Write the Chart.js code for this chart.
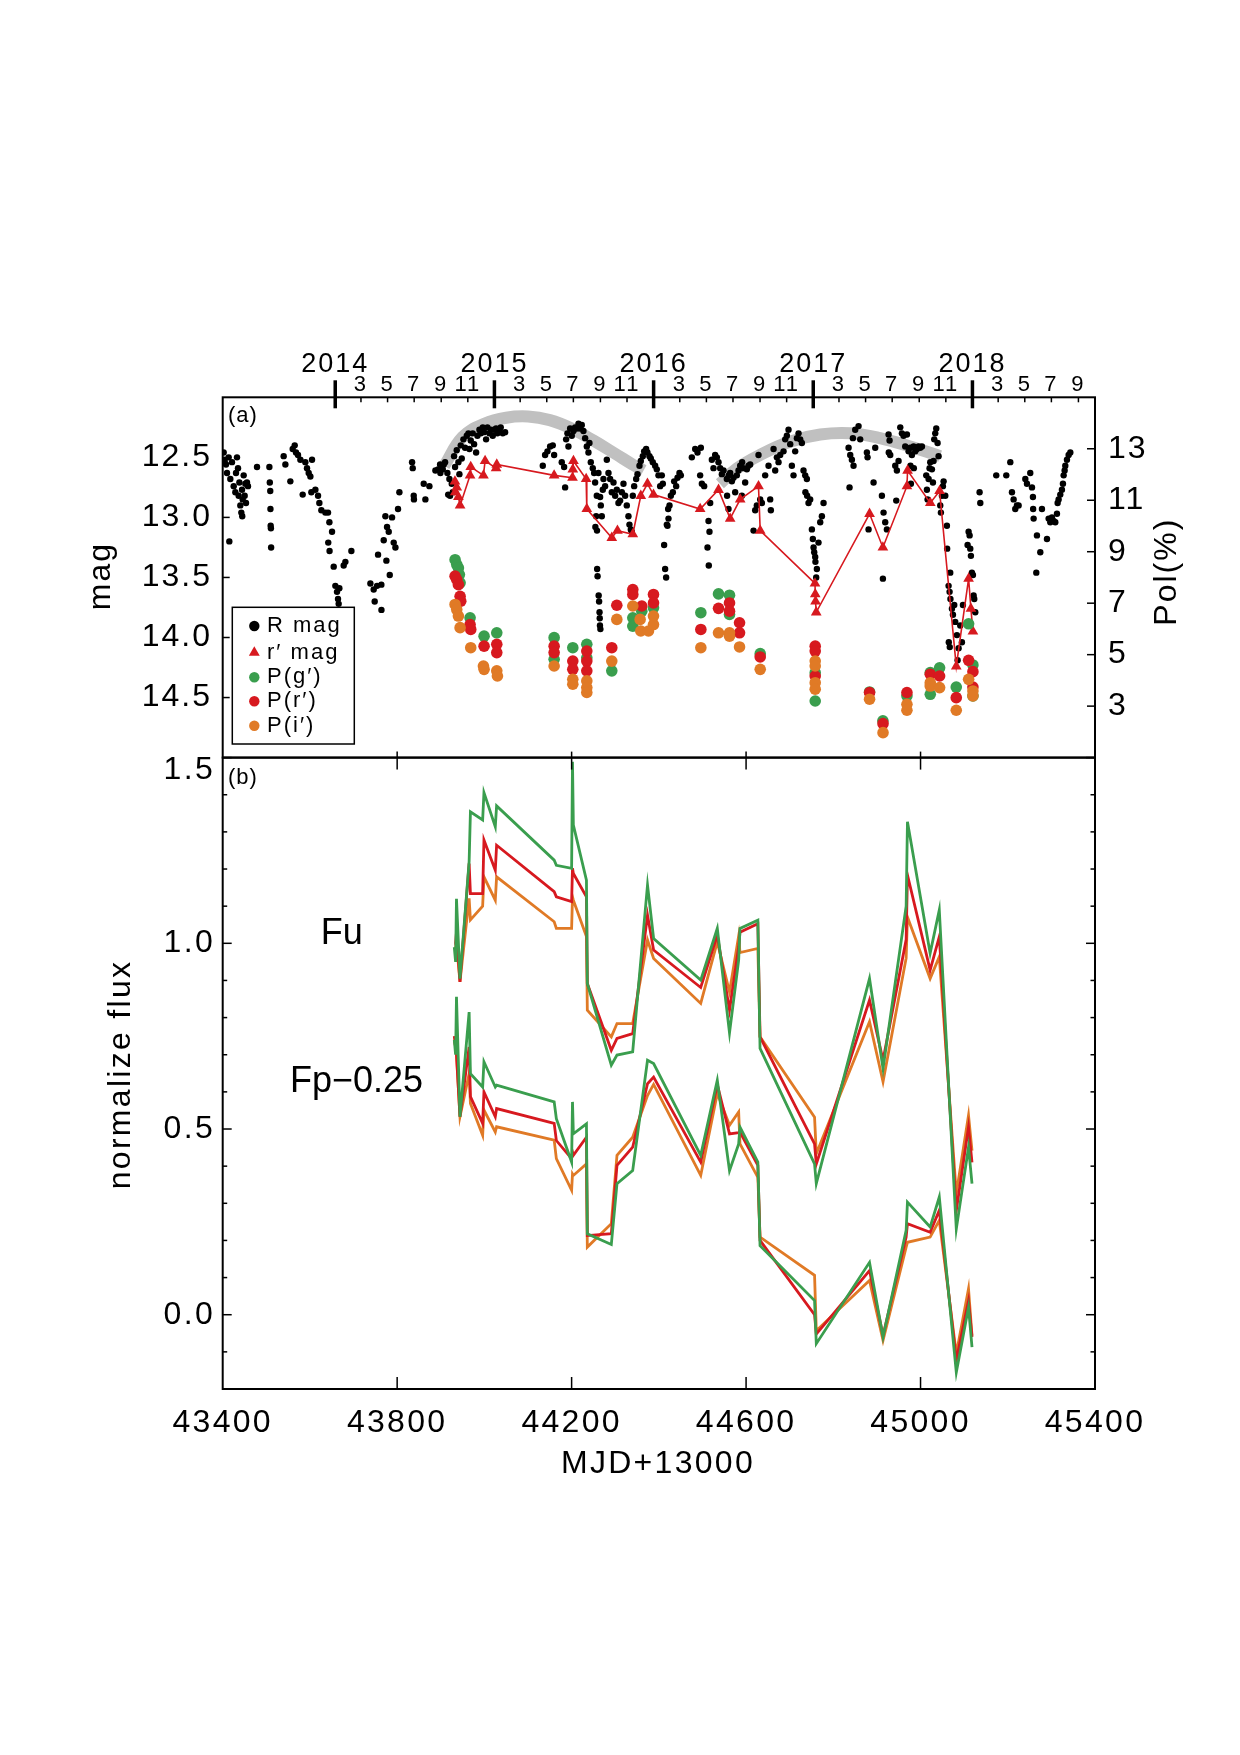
<!DOCTYPE html>
<html><head><meta charset="utf-8">
<script src="https://cdn.jsdelivr.net/npm/chart.js@4.4.1/dist/chart.umd.min.js"></script>
<style>
html,body{margin:0;padding:0;background:#fff;width:1240px;height:1755px;overflow:hidden;}
canvas{position:absolute;left:0;}
#cA{top:330px;}
#cB{top:720px;}
</style></head><body>
<canvas id="cA" width="1240" height="460"></canvas>
<canvas id="cB" width="1240" height="780"></canvas>
<script>
// ---------------- DATA ----------------
const YEAR_MJD = [43658, 44023, 44388, 44754, 45119];
const YEAR_LABELS = ['2014', '2015', '2016', '2017', '2018'];
const MONTH_DAY = [59, 120, 181, 243, 304];
const MONTH_LABELS = ['3', '5', '7', '9', '11'];
const X_TICKS = [43400, 43800, 44200, 44600, 45000, 45400];
const X_INNER = [43800, 44200, 44600, 45000];
const MAG_TICKS = [12.5, 13.0, 13.5, 14.0, 14.5];
const POL_TICKS = [3, 5, 7, 9, 11, 13];
const FLUX_TICKS = [0.0, 0.5, 1.0, 1.5];
const FLUX_MINOR = [-0.1, 0.1, 0.2, 0.3, 0.4, 0.6, 0.7, 0.8, 0.9, 1.1, 1.2, 1.3, 1.4];

// R mag (MJD+13000, mag)
const R_MAG = [
[43402.2,12.46],[43404.5,12.53],[43407.6,12.56],[43409.9,12.63],[43413.7,12.50],[43415.2,13.20],[43417.5,12.68],[43421.3,12.54],
[43425.2,12.74],[43429.0,12.79],[43430.5,12.63],[43432.8,12.50],[43435.1,12.59],[43436.6,12.82],[43438.2,12.71],[43440.4,12.90],
[43442.7,12.96],[43444.3,12.77],[43444.8,12.99],[43445.8,12.85],[43448.1,12.65],[43450.4,12.82],[43451.9,12.72],[43453.4,12.88],
[43455.7,12.71],[43458.0,12.74],[43478.7,12.58],[43507,12.58],[43508,12.71],[43509,12.78],[43509.5,12.93],[43510,13.07],
[43510.5,13.09],[43511,13.25],[43539.8,12.49],[43543.7,12.56],[43555.1,12.70],[43560.5,12.43],[43565.1,12.40],[43568.1,12.46],
[43572.7,12.48],[43578.1,12.52],[43583.4,12.81],[43589.5,12.54],[43593.3,12.59],[43597.2,12.63],[43601.0,12.66],[43603.3,12.79],
[43604.8,12.52],[43612.5,12.77],[43618.6,12.82],[43621.6,12.88],[43626.2,12.94],[43635.4,12.96],[43641.5,12.96],[43642,13.21],
[43644.6,13.04],[43645,13.28],[43650.7,13.12],[43654.5,13.41],[43658.3,13.57],[43662.1,13.62],[43664.4,13.68],[43665.9,13.72],
[43667.5,13.59],[43677.4,13.40],[43681.3,13.37],[43695.0,13.28],[43738.6,13.55],[43746.2,13.60],[43748.5,13.70],[43753.9,13.57],
[43756.2,13.31],[43763.8,13.56],[43764,13.77],[43769.2,13.19],[43773.0,12.99],[43775.3,13.36],[43776.8,13.08],[43780.7,13.12],
[43783.0,13.48],[43788.3,13.00],[43792.1,13.21],[43796.0,13.25],[43802.0,12.93],[43805.1,12.79],[43834.2,12.54],[43835.7,12.59],
[43838.0,12.82],[43838.5,12.85],[43860.9,12.72],[43864.7,12.85],[43873.9,12.74],[43887.7,12.61],[43893.8,12.60],[43899.1,12.63],
[43903.0,12.59],[43906.8,12.56],[43898.4,12.56],[43904.5,12.60],[43909.9,12.54],[43915.2,12.63],[43917,12.81],[43919.8,12.68],
[43921.3,12.82],[43925.2,12.72],[43927.5,12.79],[43930.5,12.49],[43932.8,12.58],[43936.6,12.44],[43940.4,12.54],[43942.7,12.64],
[43945.8,12.40],[43948.1,12.51],[43951.9,12.35],[43955.7,12.42],[43959.6,12.32],[43963.4,12.30],[43965.7,12.43],[43968.7,12.36],
[43973.3,12.30],[43976.4,12.39],[43981.0,12.46],[43984.0,12.32],[43988.6,12.27],[43991.7,12.30],[43996.3,12.25],[43999.3,12.29],
[44003.9,12.35],[44007.0,12.25],[44011.5,12.30],[44014.6,12.27],[44019.2,12.32],[44022.2,12.27],[44026.8,12.26],[44029.9,12.30],
[44034.5,12.27],[44037.5,12.25],[44042.1,12.30],[44047.5,12.29],[44133.9,12.57],[44139.2,12.48],[44144.6,12.45],[44150.7,12.41],
[44156.8,12.40],[44159.9,12.48],[44177.4,12.54],[44182.8,12.58],[44185.1,12.75],[44187.4,12.35],[44190.4,12.30],[44192.7,12.41],
[44196.6,12.26],[44200.4,12.32],[44204.2,12.28],[44208.0,12.25],[44211.8,12.26],[44215.7,12.22],[44219.5,12.26],[44223.3,12.23],
[44227.1,12.28],[44231.0,12.34],[44234.8,12.41],[44238.6,12.46],[44240.9,12.38],[44244.0,12.54],[44248.5,12.59],[44251.6,12.63],
[44253.9,12.71],[44254.5,13.08],[44256.2,12.99],[44257.7,12.82],[44258.2,13.11],[44258.5,13.43],[44259.5,13.49],[44261.5,12.63],
[44262,13.65],[44263,13.70],[44264,13.79],[44264.5,13.84],[44265,13.90],[44265.4,12.83],[44266,13.93],[44266.9,12.90],
[44269.2,12.99],[44271.5,12.77],[44273.0,12.68],[44276.8,12.74],[44280.7,12.52],[44284.5,12.63],[44288.3,12.68],[44292.1,12.79],
[44296.0,12.71],[44299.8,12.82],[44303.6,12.77],[44307.4,12.88],[44311.2,12.86],[44315.1,12.79],[44318.9,12.72],[44322.7,12.82],
[44326.5,12.90],[44330.3,12.99],[44332.6,13.06],[44335.7,13.10],[44338.0,13.12],[44340.3,12.82],[44343.4,12.74],[44348.0,12.68],
[44351.0,12.64],[44355.6,12.57],[44358.6,12.53],[44363.2,12.49],[44366.3,12.45],[44370.9,12.43],[44373.9,12.46],[44378.5,12.49],
[44381.6,12.51],[44386.1,12.54],[44391.5,12.57],[44395.3,12.60],[44399.1,12.65],[44403.0,12.74],[44406.8,12.65],[44409.1,12.72],
[44412.1,13.23],[44414.4,13.43],[44416.7,13.50],[44418.3,13.06],[44419.8,13.07],[44421.3,12.93],[44422.1,13.01],[44424.4,12.90],
[44427.5,12.82],[44432.1,12.79],[44435.1,12.70],[44439.7,12.74],[44442.8,12.67],[44447.3,12.63],[44450.4,12.65],[44475.6,12.50],
[44483.3,12.43],[44488.6,12.46],[44494.7,12.65],[44496.3,12.42],[44498.6,12.72],[44503.9,12.74],[44511.6,13.25],[44513.9,13.03],
[44514.5,13.40],[44516.1,13.12],[44517.7,12.88],[44521.5,12.52],[44525.3,12.59],[44529.1,12.48],[44533.0,12.50],[44536.8,12.54],
[44540.6,12.59],[44544.4,12.64],[44548.3,12.61],[44555.9,12.68],[44556.5,12.82],[44559.7,12.93],[44560.2,12.65],[44563.5,12.63],
[44567.4,12.70],[44571.2,12.67],[44575.0,12.79],[44578.8,12.65],[44582.7,12.61],[44586.5,12.57],[44590.3,12.82],[44591,12.54],
[44594.1,12.59],[44597.9,12.71],[44601.8,12.60],[44605.6,12.57],[44609.4,12.56],[44617.1,13.11],[44620.9,12.94],[44624.7,12.90],
[44628.5,12.48],[44632.4,12.85],[44636.2,12.88],[44643.8,12.65],[44651.5,12.57],[44655.3,12.85],[44656.8,12.94],[44663.0,12.43],
[44666.8,12.61],[44670.6,12.50],[44674.4,12.54],[44678.2,12.48],[44685.9,12.45],[44689.7,12.35],[44693.5,12.32],[44697.3,12.27],
[44701.2,12.39],[44705.0,12.57],[44708.8,12.65],[44712.6,12.45],[44716.5,12.34],[44720.3,12.30],[44724.1,12.35],[44727.9,12.38],
[44731.7,12.61],[44735.6,12.65],[44736,12.79],[44739.4,12.68],[44740,12.82],[44743.2,12.88],[44747.0,12.85],[44750.9,13.10],
[44753.1,13.18],[44754.7,13.25],[44756.2,13.29],[44758.5,13.33],[44759,13.37],[44760.8,13.50],[44762.3,13.43],[44766.1,13.21],
[44770.0,13.04],[44773.8,12.99],[44777.6,12.88],[44835.0,12.42],[44837.2,12.75],[44838.8,12.48],[44842.6,12.52],[44844.9,12.34],
[44846.4,12.57],[44850.2,12.27],[44857.9,12.24],[44861.7,12.35],[44877.0,12.46],[44878.5,12.50],[44880.8,13.10],[44892.3,12.71],
[44896.1,12.42],[44911.4,12.82],[44913.7,13.51],[44915.2,12.96],[44919.0,13.04],[44922.9,13.10],[44926.7,12.31],[44927.2,12.46],
[44929.0,12.36],[44930.5,12.48],[44942.0,12.57],[44944.3,12.86],[44945.8,12.61],[44949.6,12.53],[44953.5,12.25],[44957.3,12.30],
[44961.1,12.32],[44964.9,12.41],[44968.8,12.31],[44972.6,12.45],[44976.4,12.42],[44976.9,12.57],[44977.9,12.72],[44980.2,12.48],
[44984.1,12.41],[44984.6,12.59],[44987.9,12.45],[44991.7,12.43],[44995.5,12.41],[44999.3,12.42],[45003.2,12.41],[45013.1,12.65],
[45014.6,12.77],[45016.2,12.85],[45018.5,12.68],[45020.7,12.59],[45022.3,12.54],[45026.1,12.60],[45028.4,12.71],[45029.9,12.53],
[45031.4,12.35],[45033.7,12.30],[45036.0,12.26],[45039.1,12.38],[45041.4,12.49],[45045.2,12.90],[45046.7,12.96],[45049.0,12.82],
[45051.3,12.74],[45052.9,12.70],[45056.7,12.82],[45060.5,13.07],[45061,13.26],[45064.3,13.57],[45064.8,14.04],[45066.6,13.62],
[45067,14.08],[45068.1,13.46],[45068.6,13.68],[45072.0,13.76],[45074.3,13.81],[45077.3,13.73],[45079.6,13.87],[45083.4,13.98],
[45085.0,14.19],[45087.3,14.09],[45091.1,13.90],[45094.9,14.04],[45097.2,13.73],[45107.9,13.23],[45110.2,13.12],[45112.5,13.15],
[45114.0,13.26],[45115.5,13.32],[45117.8,13.46],[45120.1,13.48],[45121.7,13.65],[45123.2,13.68],[45125.5,13.79],[45135.4,12.79],
[45137.0,12.88],[45173.6,12.65],[45196.6,12.65],[45205.8,12.54],[45209.6,12.79],[45213.4,12.85],[45217.2,12.93],[45221.0,12.90],
[45224.9,12.90],[45240.2,12.68],[45244.0,12.72],[45251.6,12.63],[45255.5,12.75],[45257.7,12.83],[45258.2,12.93],[45259.3,13.01],
[45265.4,13.46],[45266.9,13.15],[45274.6,13.29],[45278.4,12.93],[45289.9,13.18],[45293.7,13.01],[45297.5,13.04],[45301.3,13.00],
[45305.1,13.03],[45309.0,13.04],[45312.8,12.97],[45314.3,12.88],[45316.6,12.85],[45320.4,12.81],[45324.2,12.77],[45326.5,12.72],
[45328.1,12.65],[45330.4,12.61],[45331.9,12.57],[45335.7,12.52],[45339.5,12.48],[45343.4,12.46]
];

// r' mag (triangles, connected)
const R_PRIME = [
[43932.5,12.70],[43933.2,12.79],[43936.6,12.75],[43940.4,12.83],[43944.3,12.90],[43967.2,12.65],[43968.7,12.58],[43997.8,12.65],
[44001.6,12.53],[44026.8,12.59],[44028.4,12.56],[44159.9,12.65],[44202.0,12.67],[44202.7,12.60],[44204.2,12.53],[44233.3,12.68],
[44234.8,12.93],[44292.1,13.17],[44305.1,13.11],[44340.3,13.14],[44358.6,12.82],[44373.9,12.72],[44387.7,12.81],[44494.7,12.93],
[44536.8,12.77],[44563.5,13.01],[44586.5,12.85],[44628.5,12.74],[44632.4,13.11],[44758.0,13.55],[44758.6,13.64],[44759.3,13.70],
[44760.8,13.79],[44883.1,12.97],[44913.7,13.25],[44968.8,12.74],[44970.3,12.61],[45022.3,12.88],[45043.7,12.78],[45081.9,14.24],
[45110.2,13.51],[45115.5,13.76],[45120.1,13.95]
];

// grey bands (mag)
const BAND1 = [[43908,12.57],[43950,12.33],[44000,12.22],[44050,12.17],[44100,12.16],[44150,12.19],[44200,12.26],[44250,12.36],[44300,12.47],[44340,12.56],[44365,12.61]];
const BAND2 = [[44540,12.72],[44580,12.59],[44632,12.48],[44700,12.37],[44770,12.31],[44840,12.30],[44907,12.34],[44976,12.41],[45045,12.49]];

// Polarization (%)
const P_G = [[43932.8,8.69],[43936.6,8.50],[43940.4,8.37],[43942.7,8.11],[43944.3,7.79],[43967.2,6.43],[43999.3,5.72],[44028.4,5.85],
[44159.9,5.66],[44159.9,4.82],[44202.7,5.27],[44234.8,5.40],[44234.8,4.88],[44292.1,4.37],[44340.3,6.43],[44340.3,6.11],[44360.9,6.69],
[44387.7,6.82],[44496.3,6.63],[44536.8,7.36],[44562,7.31],[44562,6.56],[44632.4,5.04],[44758.5,4.30],[44758.5,3.20],[44883.1,3.55],
[44913.7,2.43],[44968.8,3.40],[45022.3,4.30],[45022.3,3.46],[45043.7,4.49],[45081.9,3.74],[45110.2,6.20],[45120.1,4.60],[45120.1,3.40]];
const P_R = [[43932.8,8.05],[43936.6,7.92],[43940.4,7.72],[43944.3,7.27],[43945.8,7.08],[43967.2,6.17],[43968.7,5.98],[43999.3,5.33],
[44028.4,5.40],[44028.4,5.08],[44159.9,5.33],[44159.9,5.08],[44202.7,4.75],[44202.7,4.43],[44234.8,5.14],[44234.8,4.75],[44234.8,4.37],
[44292.1,5.27],[44303.6,6.92],[44340.3,7.53],[44340.3,7.34],[44360.9,6.89],[44387.7,7.34],[44387.7,7.01],[44496.3,5.98],[44536.8,6.80],
[44562,7.01],[44562,6.69],[44585,6.24],[44585,5.85],[44632.4,4.91],[44758.5,5.33],[44758.5,5.14],[44758.5,4.17],[44883.1,3.53],
[44914,2.32],[44968.8,3.53],[45022.3,4.24],[45043.7,4.17],[45081.9,3.33],[45110.2,4.78],[45120.1,4.34],[45120.1,3.74]];
const P_I = [[43932.8,6.95],[43936.6,6.75],[43940.4,6.50],[43944.3,6.05],[43968.7,5.27],[43997.8,4.56],[43999.3,4.43],[44028.4,4.37],
[44029.9,4.17],[44159.9,4.56],[44202.7,4.04],[44202.7,3.85],[44234.8,3.98],[44234.8,3.72],[44234.8,3.53],[44292.1,4.75],[44303.6,6.37],
[44340.3,6.89],[44357.1,6.37],[44358.6,5.92],[44376.2,5.92],[44387.7,6.50],[44387.7,6.17],[44496.3,5.27],[44536.8,5.85],[44562,5.85],
[44562,5.72],[44585,5.30],[44632.4,4.43],[44758.5,4.75],[44758.5,4.56],[44758.5,3.91],[44758.5,3.66],[44883.1,3.27],[44914,1.97],
[44968.8,3.07],[44968.8,2.84],[45022.3,3.91],[45022.3,3.78],[45043.7,3.72],[45081.9,2.84],[45110.2,4.04],[45120.1,3.59],[45120.1,3.40]];

// panel (b): normalized fluxes at each epoch
const EPOCHS = [43931,43934,43936,43944,43965,43968,43996,43999,44025,44028,44160,44165,44200,44202,44204,44234,44236,44291,44304,44340,
44374,44388,44496,44534,44562,44583,44586,44627,44632,44757,44761,44883,44914,44967,44970,45022,45043,45082,45110,45118];
const FU_G = [0.99,0.95,1.12,0.905,1.22,1.354,1.332,1.406,1.314,1.37,1.224,1.21,1.202,1.489,1.318,1.17,0.892,0.672,0.699,0.708,
1.157,1.013,0.901,1.04,0.759,0.955,1.04,1.062,0.717,0.406,0.353,0.905,0.663,1.10,1.327,0.973,1.09,0.231,0.451,0.353];
const FU_R = [1.00,1.00,1.03,0.896,1.215,1.134,1.134,1.278,1.197,1.264,1.139,1.125,1.112,1.202,1.188,1.125,0.892,0.712,0.744,0.757,
1.076,0.982,0.881,1.022,0.82,0.99,1.03,1.053,0.748,0.46,0.406,0.847,0.685,1.01,1.184,0.928,1.018,0.28,0.505,0.41];
const FU_I = [0.99,0.99,1.00,0.896,1.121,1.063,1.10,1.179,1.116,1.179,1.058,1.04,1.04,1.125,1.116,1.018,0.82,0.748,0.784,0.784,
1.009,0.959,0.838,1.004,0.869,1.02,0.975,0.986,0.748,0.532,0.433,0.789,0.627,0.96,1.071,0.905,0.964,0.326,0.537,0.442];
const FP025_G = [0.74,0.70,0.856,0.533,0.815,0.649,0.613,0.681,0.613,0.618,0.573,0.528,0.411,0.573,0.487,0.514,0.218,0.189,0.353,0.388,
0.685,0.676,0.429,0.631,0.388,0.46,0.505,0.411,0.186,0.038,-0.078,0.141,-0.06,0.227,0.303,0.236,0.317,-0.155,0.02,-0.087];
const FP025_R = [0.75,0.72,0.70,0.533,0.721,0.587,0.515,0.60,0.533,0.555,0.515,0.469,0.42,0.438,0.429,0.478,0.213,0.218,0.402,0.451,
0.622,0.64,0.411,0.62,0.487,0.49,0.492,0.402,0.20,0.0,-0.052,0.119,-0.056,0.209,0.245,0.222,0.281,-0.123,0.038,-0.06];
const FP025_I = [0.74,0.72,0.70,0.533,0.649,0.569,0.483,0.551,0.492,0.506,0.47,0.42,0.335,0.379,0.375,0.406,0.182,0.245,0.429,0.478,
0.59,0.62,0.375,0.596,0.51,0.546,0.46,0.37,0.209,0.106,-0.043,0.092,-0.069,0.182,0.195,0.209,0.254,-0.105,0.07,-0.056];

// ---------------- STYLE ----------------
const FONT = '"Liberation Sans", Arial, Helvetica, sans-serif';
const COL_G = '#3a9e4e', COL_R = '#d7191f', COL_I = '#e07a26', COL_BAND = '#c0c0c0';
Chart.defaults.font.family = FONT;
Chart.defaults.color = '#000';

const MONTH_TICKS = [], MONTH_TEXT = [];
YEAR_MJD.forEach((y, k) => MONTH_DAY.forEach((d, j) => {
  if (k === YEAR_MJD.length - 1 && j === MONTH_DAY.length - 1) return;
  MONTH_TICKS.push(y + d + (YEAR_LABELS[k] === '2016' ? 1 : 0));
  MONTH_TEXT.push(MONTH_LABELS[j]);
}));

const pts = arr => arr.map(p => ({x: p[0], y: p[1]}));
const ser = (xs, ys) => xs.map((x, i) => ({x, y: ys[i]}));
const fixH = h => s => { s.height = h; s.paddingLeft = 0; s.paddingRight = 0; s.paddingTop = 0; s.paddingBottom = 0; };
const fixW = w => s => { s.width = w; s.paddingLeft = 0; s.paddingRight = 0; s.paddingTop = 0; s.paddingBottom = 0; };
const setTicks = vals => s => { s.ticks = vals.map(v => ({value: v})); };
const noGrid = {display: false, drawTicks: false};
const noBorder = {display: false};

function seg(ctx, x1, y1, x2, y2, w) { ctx.lineWidth = w; ctx.beginPath(); ctx.moveTo(x1, y1); ctx.lineTo(x2, y2); ctx.stroke(); }
function txt(ctx, s, x, y, size, o = {}) {
  ctx.save();
  ctx.font = size + 'px ' + FONT;
  ctx.letterSpacing = (o.ls || 0) + 'px';
  ctx.fillStyle = '#000';
  ctx.textAlign = o.align || 'center';
  ctx.textBaseline = o.base || 'middle';
  ctx.translate(x, y);
  if (o.rot) ctx.rotate(o.rot);
  ctx.fillText(s, 0, 0);
  ctx.restore();
}

// ---------------- PANEL (a) ----------------
const OFF_A = 330;
const plugA = {
  id: 'plugA',
  beforeDraw(chart) { chart.ctx.letterSpacing = '2px'; },
  afterDraw(chart) {
    const {ctx, chartArea: a, scales} = chart;
    const sx = scales.x, sm = scales.mag, sp = scales.pol;
    ctx.save();
    ctx.letterSpacing = '0px';
    ctx.strokeStyle = '#000';
    // legend
    const L = {x: 232.3, y: 607.3 - OFF_A, w: 122, h: 136.7};
    ctx.fillStyle = '#fff'; ctx.fillRect(L.x, L.y, L.w, L.h);
    ctx.lineWidth = 1.5; ctx.strokeRect(L.x, L.y, L.w, L.h);
    const ds = chart.data.datasets;
    const items = [2, 3, 4, 5, 6];
    const ly = [626, 652.5, 677.3, 701.3, 725.7];
    items.forEach((di, k) => {
      const d = ds[di], y = ly[k] - OFF_A, x = 254.3;
      ctx.fillStyle = d.pointBackgroundColor;
      ctx.beginPath();
      if (d.pointStyle === 'triangle') {
        const r = 6.3;
        ctx.moveTo(x, y - r); ctx.lineTo(x + r * 0.866, y + r * 0.5); ctx.lineTo(x - r * 0.866, y + r * 0.5); ctx.closePath();
      } else {
        ctx.arc(x, y, 5.2, 0, Math.PI * 2);
      }
      ctx.fill();
      txt(ctx, d.label, 267, y, 22, {align: 'left', ls: 2});
    });
    // frame and ticks
    ctx.strokeStyle = '#000';
    ctx.lineWidth = 2; ctx.strokeRect(a.left, a.top, a.right - a.left, a.bottom - a.top);
    X_INNER.forEach(v => { const x = sx.getPixelForValue(v); seg(ctx, x, a.bottom, x, a.bottom - 6, 1.5); });
    YEAR_MJD.forEach(v => { const x = sx.getPixelForValue(v); seg(ctx, x, a.top - 17, x, a.top + 11, 3.5); });
    MONTH_TICKS.forEach(v => { const x = sx.getPixelForValue(v); seg(ctx, x, a.top, x, a.top + 5, 1.5); });
    MAG_TICKS.forEach(v => { const y = sm.getPixelForValue(v); seg(ctx, a.left, y, a.left + 7, y, 1.5); });
    POL_TICKS.forEach(v => { const y = sp.getPixelForValue(v); seg(ctx, a.right, y, a.right - 8, y, 1.5); });
    ctx.restore();
    txt(ctx, '(a)', 228, 416 - OFF_A, 22, {align: 'left', ls: 1});
    txt(ctx, 'mag', 100.7, 576 - OFF_A, 32, {rot: -Math.PI / 2, ls: 2});
    txt(ctx, 'Pol(%)', 1167.5, 571.7 - OFF_A, 32, {rot: -Math.PI / 2, ls: 2});
  }
};

new Chart(document.getElementById('cA'), {
  type: 'scatter',
  data: {datasets: [
    {label: 'band1', data: pts(BAND1), showLine: true, borderColor: COL_BAND, borderWidth: 12, pointRadius: 0, tension: 0.4, borderCapStyle: 'butt', order: 10, xAxisID: 'x', yAxisID: 'mag'},
    {label: 'band2', data: pts(BAND2), showLine: true, borderColor: COL_BAND, borderWidth: 12, pointRadius: 0, tension: 0.4, borderCapStyle: 'butt', order: 9, xAxisID: 'x', yAxisID: 'mag'},
    {label: 'R mag', data: pts(R_MAG), pointRadius: 3.2, pointBackgroundColor: '#000', backgroundColor: '#000', pointBorderWidth: 0, order: 6, xAxisID: 'x', yAxisID: 'mag'},
    {label: 'r\u2032 mag', data: pts(R_PRIME), showLine: true, borderColor: COL_R, borderWidth: 1.6, tension: 0, pointStyle: 'triangle', pointRadius: 6.2, pointBackgroundColor: COL_R, backgroundColor: COL_R, pointBorderWidth: 0, order: 5, xAxisID: 'x', yAxisID: 'mag'},
    {label: 'P(g\u2032)', data: pts(P_G), pointRadius: 5.8, pointBackgroundColor: COL_G, backgroundColor: COL_G, pointBorderWidth: 0, order: 3, xAxisID: 'x', yAxisID: 'pol'},
    {label: 'P(r\u2032)', data: pts(P_R), pointRadius: 5.8, pointBackgroundColor: COL_R, backgroundColor: COL_R, pointBorderWidth: 0, order: 2, xAxisID: 'x', yAxisID: 'pol'},
    {label: 'P(i\u2032)', data: pts(P_I), pointRadius: 5.8, pointBackgroundColor: COL_I, backgroundColor: COL_I, pointBorderWidth: 0, order: 1, xAxisID: 'x', yAxisID: 'pol'}
  ]},
  options: {
    responsive: false, animation: false, events: [],
    layout: {padding: 0},
    plugins: {legend: {display: false}, tooltip: {enabled: false}},
    scales: {
      x: {type: 'linear', position: 'bottom', min: 43400, max: 45400, afterFit: fixH(32.4), ticks: {display: false}, grid: noGrid, border: noBorder},
      xm: {type: 'linear', position: 'top', weight: 0, min: 43400, max: 45400, afterFit: fixH(25), afterBuildTicks: setTicks(MONTH_TICKS),
           ticks: {autoSkip: false, maxRotation: 0, minRotation: 0, padding: 1.3, font: {size: 22, lineHeight: 1}, callback: (v, i) => MONTH_TEXT[i]}, grid: noGrid, border: noBorder},
      xy: {type: 'linear', position: 'top', weight: 1, min: 43400, max: 45400, afterFit: fixH(42.3), afterBuildTicks: setTicks(YEAR_MJD),
           ticks: {autoSkip: false, maxRotation: 0, minRotation: 0, padding: 4.2, font: {size: 27, lineHeight: 0.3}, callback: (v, i) => YEAR_LABELS[i]}, grid: noGrid, border: noBorder},
      mag: {type: 'linear', position: 'left', reverse: true, min: 12, max: 15, afterFit: fixW(222.7), afterBuildTicks: setTicks(MAG_TICKS),
            ticks: {padding: 10.7, font: {size: 32}, callback: v => v.toFixed(1)}, grid: noGrid, border: noBorder},
      pol: {type: 'linear', position: 'right', min: 1, max: 15, afterFit: fixW(145), afterBuildTicks: setTicks(POL_TICKS),
            ticks: {padding: 13, font: {size: 32}, callback: v => String(v)}, grid: noGrid, border: noBorder}
    }
  },
  plugins: [plugA]
});

// ---------------- PANEL (b) ----------------
const OFF_B = 720;
const FLUX_MIN = -0.2, FLUX_MAX = 1.5;
const plugB = {
  id: 'plugB',
  beforeDraw(chart) { chart.ctx.letterSpacing = '2.3px'; },
  afterDraw(chart) {
    const {ctx, chartArea: a, scales} = chart;
    const sx = scales.x, sy = scales.y;
    ctx.save();
    ctx.letterSpacing = '0px';
    ctx.strokeStyle = '#000';
    ctx.lineWidth = 2; ctx.strokeRect(a.left, a.top, a.right - a.left, a.bottom - a.top);
    X_INNER.forEach(v => { const x = sx.getPixelForValue(v); seg(ctx, x, a.top, x, a.top + 12, 1.5); seg(ctx, x, a.bottom, x, a.bottom - 12, 1.5); });
    FLUX_TICKS.forEach(v => { const y = sy.getPixelForValue(v); seg(ctx, a.left, y, a.left + 9, y, 1.5); seg(ctx, a.right, y, a.right - 9, y, 1.5); });
    FLUX_MINOR.forEach(v => { const y = sy.getPixelForValue(v); seg(ctx, a.left, y, a.left + 4.5, y, 1.5); seg(ctx, a.right, y, a.right - 4.5, y, 1.5); });
    ctx.restore();
    // top tick label kept inside the panel (as in the original)
    FLUX_TICKS.filter(v => v >= FLUX_MAX).forEach(v => {
      txt(ctx, v.toFixed(1), a.left - 7.7, sy.getPixelForValue(v) + 12.4, 32, {align: 'right', ls: 2.3});
    });
    txt(ctx, '(b)', 228, 778.3 - OFF_B, 22, {align: 'left', ls: 1});
    txt(ctx, 'Fu', 320.7, 944 - OFF_B, 36, {align: 'left', base: 'alphabetic'});
    txt(ctx, 'Fp\u22120.25', 290, 1091.7 - OFF_B, 36, {align: 'left', base: 'alphabetic'});
    txt(ctx, 'normalize flux', 121, 1074.5 - OFF_B, 32, {rot: -Math.PI / 2, ls: 2.3});
    txt(ctx, 'MJD+13000', 658, 1463.8 - OFF_B, 32, {ls: 2.3});
  }
};
const lineDs = (label, ys, col, order) => ({label, data: ser(EPOCHS, ys), showLine: true, borderColor: col, borderWidth: 2.8, pointRadius: 0, tension: 0, order});

new Chart(document.getElementById('cB'), {
  type: 'scatter',
  data: {datasets: [
    lineDs('Fu i\u2032', FU_I, COL_I, 6),
    lineDs('Fp i\u2032', FP025_I, COL_I, 5),
    lineDs('Fu r\u2032', FU_R, COL_R, 4),
    lineDs('Fp r\u2032', FP025_R, COL_R, 3),
    lineDs('Fu g\u2032', FU_G, COL_G, 2),
    lineDs('Fp g\u2032', FP025_G, COL_G, 1)
  ]},
  options: {
    responsive: false, animation: false, events: [],
    layout: {padding: {top: 37.6, right: 145, left: 0, bottom: 0}},
    plugins: {legend: {display: false}, tooltip: {enabled: false}},
    scales: {
      x: {type: 'linear', position: 'bottom', min: 43400, max: 45400, afterFit: fixH(111), afterBuildTicks: setTicks(X_TICKS),
          ticks: {autoSkip: false, maxRotation: 0, minRotation: 0, padding: 18, font: {size: 32, lineHeight: 1}, callback: v => String(v)}, grid: noGrid, border: noBorder},
      y: {type: 'linear', position: 'left', min: FLUX_MIN, max: FLUX_MAX, afterFit: fixW(222.7), afterBuildTicks: setTicks(FLUX_TICKS),
          ticks: {padding: 7.7, font: {size: 32}, callback: v => (v >= FLUX_MAX ? '' : v.toFixed(1))}, grid: noGrid, border: noBorder}
    }
  },
  plugins: [plugB]
});
</script>
</body></html>
